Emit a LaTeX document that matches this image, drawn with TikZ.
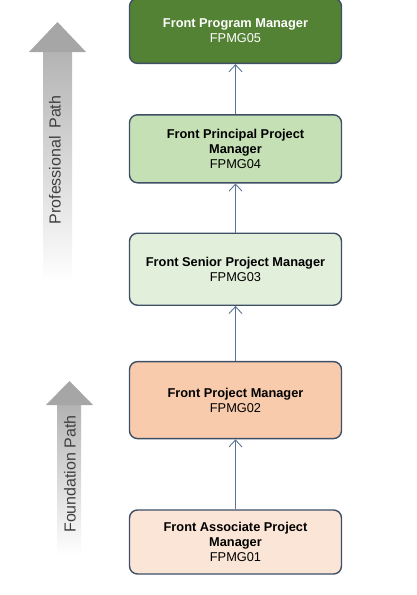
\documentclass[tikz,border=0pt]{standalone}
\usepackage{fontspec}
\setmainfont{Liberation Sans}
\usetikzlibrary{arrows.meta,positioning}

\definecolor{rim}{HTML}{3E4F66}
\definecolor{link}{HTML}{5B7596}
\definecolor{darkgrn}{HTML}{548235}
\definecolor{midgrn}{HTML}{C5E0B4}
\definecolor{palegrn}{HTML}{E2EFDA}
\definecolor{midpeach}{HTML}{F8CBAD}
\definecolor{palepeach}{HTML}{FBE5D6}
\definecolor{pathgray}{HTML}{A6A6A6}

\begin{document}
\begin{tikzpicture}[
  x=1pt, y=1pt,
  font=\fontsize{12.8}{14.8}\selectfont,
  grade/.style={draw=rim, line width=1.4pt, rounded corners=8pt, align=center,
    minimum width=212pt, inner sep=3pt},
  up/.style={-{Straight Barb[length=7pt,width=13pt]}, draw=link, line width=0.9pt},
  pathtxt/.style={rotate=90, text=black!75, font=\fontsize{16}{18}\selectfont}
]
\useasboundingbox (0,0) rectangle (416,-595);

% Path arrows
\shade[top color=pathgray!85, bottom color=white] (43,-52) rectangle (72,-282);
\fill[pathgray] (29,-52) -- (57.5,-22) -- (86,-52) -- cycle;
\shade[top color=pathgray!85, bottom color=white] (57,-405) rectangle (81,-555);
\fill[pathgray] (46,-405) -- (69.5,-381) -- (93,-405) -- cycle;

\node[pathtxt] (prof) at (55,-160) {Professional\hspace{0.2em} Path};
\node[pathtxt] (found) at (70,-474) {Foundation Path};

% Grade boxes
\node[grade, fill=palepeach, minimum height=64pt] (fpmg01) at (235.5,-542)
  {\textbf{Front Associate Project}\\\textbf{Manager}\\FPMG01};
\node[grade, fill=midpeach, minimum height=77pt, above=70pt of fpmg01] (fpmg02)
  {\textbf{Front Project Manager}\\FPMG02};
\node[grade, fill=palegrn, minimum height=72pt, above=55pt of fpmg02] (fpmg03)
  {\textbf{Front Senior Project Manager}\\FPMG03};
\node[grade, fill=midgrn, minimum height=68pt, above=49pt of fpmg03] (fpmg04)
  {\textbf{Front Principal Project}\\\textbf{Manager}\\FPMG04};
\node[grade, fill=darkgrn, text=white, minimum height=65pt, above=50pt of fpmg04] (fpmg05)
  {\textbf{Front Program Manager}\\FPMG05};

% Links
\draw[up] (fpmg01.north) -- (fpmg02.south);
\draw[up] (fpmg02.north) -- (fpmg03.south);
\draw[up] (fpmg03.north) -- (fpmg04.south);
\draw[up] (fpmg04.north) -- (fpmg05.south);

\end{tikzpicture}
\end{document}
